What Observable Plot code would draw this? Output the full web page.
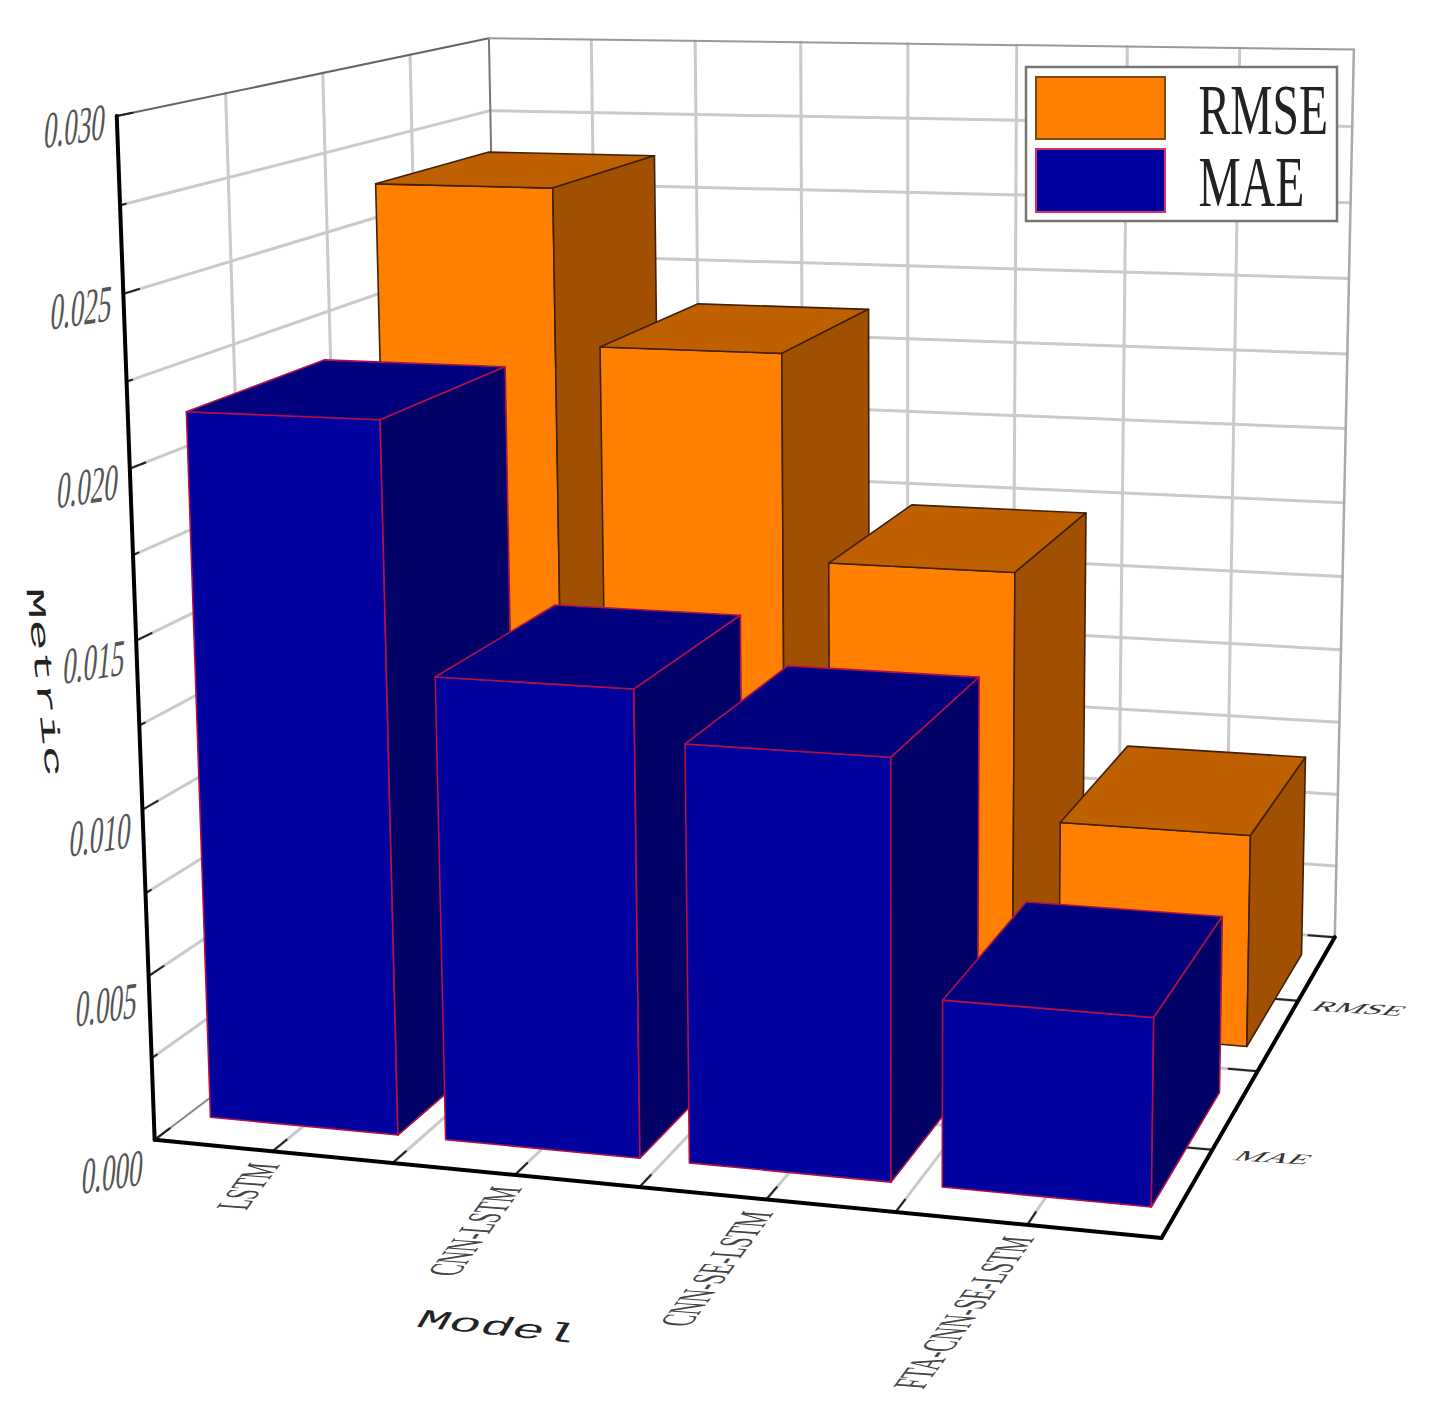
<!DOCTYPE html>
<html><head><meta charset="utf-8">
<script src="https://cdn.jsdelivr.net/npm/d3@7"></script>
<script src="https://cdn.jsdelivr.net/npm/@observablehq/plot@0.6"></script>
<style>html,body{margin:0;background:#fff}svg{display:block}</style></head><body>
<div id="chart"></div>
<script>
// ---- data ----
const models = ["LSTM", "CNN-LSTM", "CNN-SE-LSTM", "FTA-CNN-SE-LSTM"];
const metrics = ["MAE", "RMSE"];
const mae = [0.0213, 0.0139, 0.0124, 0.0055];
const rmse = [0.0263, 0.0213, 0.0147, 0.0068];
const valueTicks = [0, 0.005, 0.01, 0.015, 0.02, 0.025, 0.03];
const valueMax = 0.03;
// ---- camera: floor/wall corners of the 3-D box -> picture position ----
const anchors = [
 [0,0,0,152,1138],[4,0,0,1160,1237],[4,2,0,1335,937],[0,0,1,117,112],[0,2,1,489,36],[4,2,1,1353,48],
 [2,2,1,908,43],[1,0,0,393,1161],[2,0,0,642,1188],[3,0,0,896,1214],[4,1,0,1255,1070],[0,1,1,321,79],[0,0,.5,135,640]
];
function solve(A,b){const n=b.length;const M=A.map((r,i)=>[...r,b[i]]);
 for(let i=0;i<n;i++){let p=i;for(let k=i+1;k<n;k++)if(Math.abs(M[k][i])>Math.abs(M[p][i]))p=k;[M[i],M[p]]=[M[p],M[i]];
  for(let k=0;k<n;k++)if(k!==i){const f=M[k][i]/M[i][i];for(let j=i;j<=n;j++)M[k][j]-=f*M[i][j];}}
 return M.map((r,i)=>r[n]/r[i]);}
const cam=(()=>{const rows=[],rhs=[];
 for(const [X,Y,Z,u0,v0] of anchors){const x=X/4,y=Y/2,z=Z,u=u0/1000,v=v0/1000;
  rows.push([x,y,z,1,0,0,0,0,-u*x,-u*y,-u*z]);rhs.push(u);
  rows.push([0,0,0,0,x,y,z,1,-v*x,-v*y,-v*z]);rhs.push(v);}
 const n=11,A=d3.range(n).map(i=>d3.range(n).map(j=>d3.sum(rows,r=>r[i]*r[j]))),b=d3.range(n).map(i=>d3.sum(rows,(r,k)=>r[i]*rhs[k]));
 return solve(A,b);})();
const zScale=d3.scaleLinear().domain([0,valueMax]).range([0,1]);
function project(X,Y,v){const x=X/4,y=Y/2,z=zScale(v),p=cam;const w=p[8]*x+p[9]*y+p[10]*z+1;
 return [1000*(p[0]*x+p[1]*y+p[2]*z+p[3])/w,1000*(p[4]*x+p[5]*y+p[6]*z+p[7])/w];}
// ---- segments ----
const gridSteps=d3.range(0,8.5).map(i=>i/2), depthSteps=[0,.5,1,1.5,2], valueSteps=d3.range(0,13).map(i=>i*0.0025);
const segs=[];
function seg(a,b,stroke,w){const id=segs.length;const pa=project(...a),pb=project(...b);segs.push({id,x:pa[0],y:pa[1],stroke,w},{id,x:pb[0],y:pb[1],stroke,w});}
const G="#cacaca",GW=3;
for(const X of gridSteps){ if(X>0&&X<4){seg([X,2,0],[X,2,valueMax],G,GW);} if(X>0) seg([X,0,0],[X,2,0],G,GW);}
for(const Y of depthSteps){ if(Y>0&&Y<2) seg([0,Y,0],[0,Y,valueMax],G,GW); if(Y>0) seg([0,Y,0],[4,Y,0],G,GW);}
for(const v of valueSteps){ if(v>0&&v<valueMax){seg([0,0,v],[0,2,v],G,GW);seg([0,2,v],[4,2,v],G,GW);} }
seg([0,0,0],[0,2,0],"#888",2);
seg([0,2,0],[0,2,valueMax],"#777",2);
seg([0,0,valueMax],[0,2,valueMax],"#666",2);
seg([0,2,valueMax],[4,2,valueMax],"#999",2);
seg([4,2,0],[4,2,valueMax],"#aaa",2.5);
// ticks
const T="#222";
for(const v of valueSteps) seg([0,0,v],[0,.07*(v%0.005<1e-6||0.005-v%0.005<1e-6?1:.35),v],T,2);
for(const X of gridSteps) seg([X,0,0],[X,.07,0],T,2);
for(const Y of depthSteps) seg([4,Y,0],[3.88,Y,0],T,2);
seg([0,0,0],[4,0,0],"#000",4);
seg([4,0,0],[4,2,0],"#000",4);
seg([0,0,0],[0,0,valueMax],"#000",4);
// ---- bars ----
const hw=.4, hd=.345;
const polys=[];
function face(pts,fill,stroke){const id=polys.length;[...pts,pts[0]].forEach(p=>{const q=project(...p);polys.push({id,x:q[0],y:q[1],fill,stroke});});}
function bar(i,yc,v,c){const x0=i+.5-hw,x1=i+.5+hw,y0=yc-hd,y1=yc+hd;
 face([[x0,y0,0],[x1,y0,0],[x1,y0,v],[x0,y0,v]],c[0],c[3]);
 face([[x0,y0,v],[x1,y0,v],[x1,y1,v],[x0,y1,v]],c[1],c[3]);
 face([[x1,y0,0],[x1,y1,0],[x1,y1,v],[x1,y0,v]],c[2],c[3]);}
const rmseStyle=["#ff8000","#bf6000","#a05000","#40200a"], maeStyle=["#00009f","#00007f","#000066","#b0104a"];
rmse.forEach((v,i)=>bar(i,1.5,v,rmseStyle));
mae.forEach((v,i)=>bar(i,.5,v,maeStyle));
// ---- text tables ----
const ticksText=valueTicks.map(v=>{const [x,y]=project(0,0,v);return {label:v.toFixed(3),x:x-42,y:y+d3.scaleLinear([0,valueMax],[33,11])(v)};});
const modelText=models.map((m,i)=>{const [x,y]=project(i+.5,0,0);return {label:m,x:x-7,y:y+12};});
const metricText=metrics.map((m,i)=>{const [x,y]=project(4,i+.5,0);return {label:m,x:x+61,y:y+8};});
const legendItems=[{label:"RMSE",fill:"#ff8000",stroke:"#7a4a10",x1:1036,x2:1165,y1:77,y2:139,x:1198,y:133},{label:"MAE",fill:"#00009f",stroke:"#d8306a",x1:1036,x2:1165,y1:149,y2:212,x:1198,y:205}];
const yTitle=[{label:"Metric",x:44,y:682}], xTitle=[{label:"Model",x:497,y:1326}];
const serif="Liberation Serif", mono="Liberation Mono";
const txt=(data,o)=>Plot.text(data,{x:"x",y:"y",text:"label",...o});
const chart=Plot.plot({width:1441,height:1419,margin:0,style:{background:"#fff"},
 x:{domain:[0,1441],range:[0,1441],axis:null},y:{domain:[0,1419],range:[0,1419],axis:null},color:{type:"identity"},
 marks:[
  Plot.line(segs,{x:"x",y:"y",z:"id",stroke:"stroke",strokeWidth:"w"}),
  Plot.line(polys,{x:"x",y:"y",z:"id",fill:"fill",stroke:"stroke",strokeWidth:1.6}),
  Plot.rect([{x1:1026,x2:1337,y1:67,y2:221}],{x1:"x1",x2:"x2",y1:"y1",y2:"y2",fill:"#fff",stroke:"#777",strokeWidth:2.5}),
  Plot.rect(legendItems,{x1:"x1",x2:"x2",y1:"y1",y2:"y2",fill:"fill",stroke:"stroke",strokeWidth:2}),
  txt(legendItems,{fontFamily:serif,fontSize:71,fill:"#222",textAnchor:"start",lineAnchor:"bottom",className:"t-legend"}),
  txt(ticksText,{fontFamily:serif,fontSize:52,fill:"#555",textAnchor:"middle",className:"t-value"}),
  txt(modelText,{fontFamily:serif,fontSize:40,fill:"#444",textAnchor:"end",className:"t-model"}),
  txt(metricText,{fontFamily:serif,fontSize:20,fill:"#333",textAnchor:"middle",className:"t-metric"}),
  txt(yTitle,{fontFamily:mono,fontSize:30,fill:"#222",textAnchor:"middle",className:"t-ylabel"}),
  txt(xTitle,{fontFamily:mono,fontSize:30,fill:"#222",textAnchor:"middle",className:"t-xlabel"})
 ]});
// the original's labels are drawn on tilted 3-D planes: shear each text group onto its plane
const planes=[["t-legend",legendItems,[.67,0,0,1]],["t-value",ticksText,[.52,-.08,-.1,1]],["t-model",modelText,[.32,-.433,1.15,.08]],["t-metric",metricText,[1.65,.1,-.8,.7]],["t-ylabel",yTitle,[.185,1.76,-.85,0]],["t-xlabel",xTitle,[1.75,.18,-.5,.85]]];
for(const [cls,rows,m] of planes){
 chart.querySelectorAll(`.${cls} text`).forEach((el,i)=>{
  el.setAttribute("transform",`translate(${rows[i].x} ${rows[i].y}) matrix(${m.join(" ")} 0 0)`);
 });
}
document.getElementById("chart").append(chart);
</script></body></html>
